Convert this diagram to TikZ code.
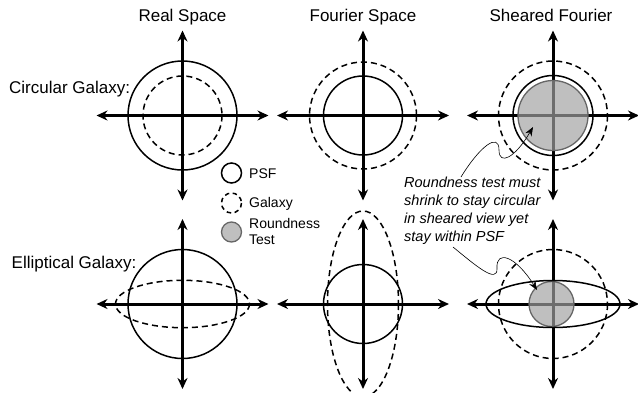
\documentclass[tikz,border=0pt]{standalone}
\usepackage{fontspec}
\setmainfont{Liberation Sans}
\usetikzlibrary{arrows.meta}
\begin{document}
\begin{tikzpicture}[x=1pt,y=-1pt,
  axis/.style={line width=3pt,
    {Stealth[length=11pt,width=10pt]}-{Stealth[length=11pt,width=10pt]}},
  psf/.style={line width=1.5pt},
  gal/.style={line width=1.5pt, dash pattern=on 6pt off 4pt},
  smallgal/.style={line width=1.5pt, dash pattern=on 4.5pt off 3.5pt},
  rtest/.style={draw=black!60, line width=1.3pt, fill=black!37, fill opacity=0.68},
  head/.style={font=\fontsize{17}{20}\selectfont, anchor=base, inner sep=0},
  rowlabel/.style={font=\fontsize{17}{20}\selectfont, anchor=base west, inner sep=0},
  legtext/.style={font=\fontsize{14}{16}\selectfont, anchor=base west, inner sep=0, align=left},
  notetext/.style={font=\fontsize{14.5}{18}\selectfont\itshape, anchor=north west, inner sep=0, align=left},
  note/.style={line width=0.6pt, -{Stealth[length=9pt,width=7pt]}},
]
\useasboundingbox (0,0) rectangle (638,392);

% panel centres
\coordinate (c11) at (182.5,115.5);
\coordinate (c12) at (363,115.5);
\coordinate (c13) at (553,115.5);
\coordinate (c21) at (182.5,304);
\coordinate (c22) at (363,304);
\coordinate (c23) at (553,304);

% column headings and row labels
\node[head] (h1) at (182.5,21) {Real Space};
\node[head] (h2) at (363,21) {Fourier Space};
\node[head] (h3) at (551,21) {Sheared Fourier};
\node[rowlabel] (r1) at (9,93) {Circular Galaxy:};
\node[rowlabel] (r2) at (11.5,268) {Elliptical Galaxy:};

% coordinate axes of every panel
\foreach \c in {c11,c12,c13,c21,c22,c23}{
  \draw[axis] ([xshift=-86pt]\c) -- ([xshift=86pt]\c);
  \draw[axis] ([yshift=85pt]\c) -- ([yshift=-85pt]\c);
}

% roundness test discs (drawn over the axes)
\draw[rtest] (c13) circle[radius=35];
\draw[rtest] ([xshift=-1.5pt]c23) circle[radius=22.5];

% circular galaxy row
\draw[psf] (c11) circle[radius=54.5];
\draw[gal] (c11) circle[radius=39.5];
\draw[psf] (c12) circle[radius=39.5];
\draw[gal] (c12) circle[radius=53.5];
\draw[psf] (c13) circle[radius=40];
\draw[gal] (c13) circle[radius=54.5];

% elliptical galaxy row
\draw[psf] (c21) circle[radius=54.5];
\draw[gal] (c21) ellipse[x radius=67, y radius=23.7];
\draw[psf] (c22) circle[radius=39.5];
\draw[gal] (c22) ellipse[x radius=35.5, y radius=93];
\draw[gal] (c23) circle[radius=54.5];
\draw[psf] (c23) ellipse[x radius=67, y radius=23.5];

% legend
\draw[psf] (231.5,173) circle[radius=10];
\draw[smallgal] (231.5,203) circle[radius=10];
\draw[rtest] (231.5,232) circle[radius=10];
\node[legtext] (l1) at (249,178) {PSF};
\node[legtext] (l2) at (249,207.5) {Galaxy};
\node[legtext] (l3) at (249,244) {Roundness\\Test};

% annotation
\node[notetext] (nt) at (404,177) {Roundness test must\\shrink to stay circular\\in sheared view yet\\stay within PSF};
\coordinate (n1s) at (461,177);
\coordinate (n1e) at (533,127);
\coordinate (n2s) at (453,247);
\coordinate (n2e) at (537,290);
\draw[note] (n1s) .. controls (480,146) and (499,132) .. (499,150)
                  .. controls (499,166) and (515,158) .. (n1e);
\draw[note] (n2s) .. controls (475,265) and (498,285) .. (497,268)
                  .. controls (496,250) and (515,255) .. (n2e);
\end{tikzpicture}
\end{document}
